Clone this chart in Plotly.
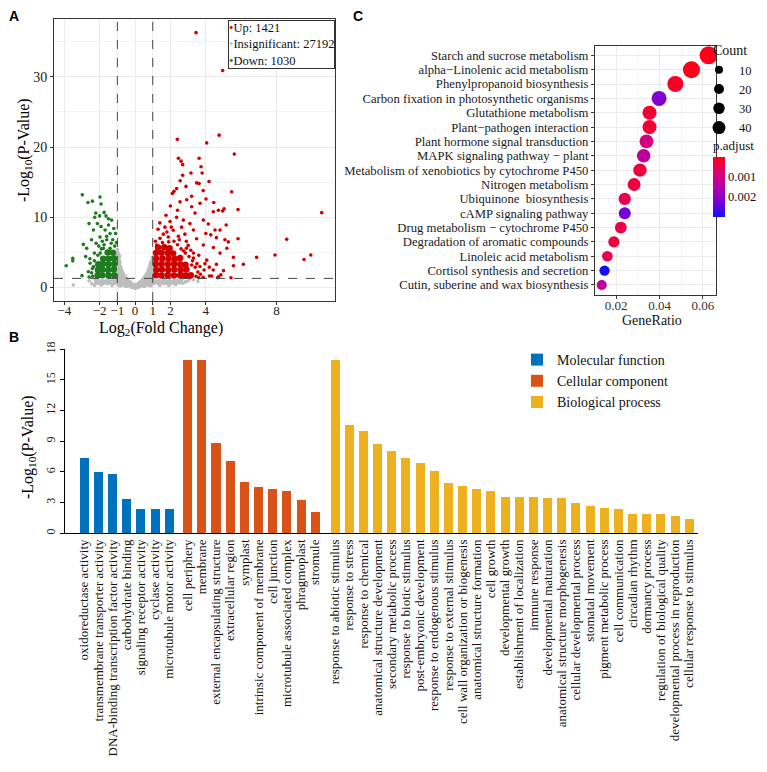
import plotly.graph_objects as go

# ------------------------------------------------------------------
# Panel A : volcano plot
# ------------------------------------------------------------------
up_x = [3.45, 4.95, 2.39, 4.75, 4.05, 5.61, 2.45, 3.62, 2.6, 2.69, 2.69, 3.16, 3.73, 3.79, 3.48, 3.62,
        4.18, 2.88, 2.35, 2.11, 2.2, 5.46, 5.82, 10.55, 8.57, 7.91, 9.93, 9.55, 6.87, 6.12, 5.56, 5.56,
        5.82, 4.71, 4.67, 4.2, 4.33, 5.42, 3.6, 2.54, 2.92, 3.2, 3.39, 3.67, 4.01, 4.42, 4.71, 4.95,
        5.03, 3.86, 4.14, 4.52, 4.8, 4.28, 4.6, 5.08, 5.27, 3.86, 4.43, 4.8, 5.19, 4.05, 3.67, 4.42,
        3.2, 3.3, 3.0, 3.48, 2.82, 2.63, 2.16, 1.98, 1.69, 2.35, 2.73, 3.1, 1.88, 1.41, 1.22, 1.6,
        3.45, 3.55, 3.4, 3.25, 3.05, 2.85, 2.6, 2.4, 2.2, 1.9, 1.55, 1.15, 3.7, 3.9, 3.5, 3.3,
        2.9, 2.5, 1.8, 1.3, 2.05, 2.9, 3.6, 3.95, 4.2, 3.85, 3.1, 2.75, 1.4, 1.75, 2.4, 2.0,
        3.2, 3.85, 2.55, 4.45, 5.15, 4.0, 3.3, 2.45, 3.15, 4.6, 5.0, 4.85]
up_y = [36.3, 30.9, 21.1, 21.7, 20.6, 19.0, 18.4, 18.4, 18.0, 17.5, 16.0, 16.3, 17.2, 16.3, 14.9, 14.8,
        15.1, 14.4, 14.1, 13.4, 13.7, 13.65, 11.1, 10.66, 6.87, 4.63, 4.63, 4.0, 4.3, 3.3, 3.1, 4.3,
        6.95, 1.54, 1.4, 1.64, 1.64, 1.4, 1.4, 12.2, 12.5, 11.5, 10.6, 12.0, 12.6, 10.8, 11.0, 10.9,
        11.2, 9.6, 9.05, 8.2, 8.2, 7.5, 7.1, 6.8, 6.5, 6.05, 5.7, 4.9, 5.6, 3.9, 3.0, 2.5,
        3.2, 4.9, 6.0, 6.95, 7.6, 8.6, 8.15, 9.4, 8.6, 10.0, 9.6, 9.1, 7.2, 7.0, 6.05, 7.6,
        1.6, 2.2, 2.9, 3.8, 4.4, 4.9, 5.5, 6.1, 6.6, 6.5, 6.4, 6.6, 1.9, 2.5, 3.4, 4.2,
        5.6, 6.8, 7.9, 8.3, 8.6, 6.6, 4.6, 3.4, 2.9, 1.45, 1.4, 5.2, 9.2, 10.3, 11.0, 11.6,
        13.0, 13.8, 15.2, 12.1, 8.9, 7.7, 8.2, 7.3, 5.3, 3.3, 2.4, 1.8]
up_core_x = [1.18, 1.5, 1.85, 2.2, 2.55, 2.85, 3.15, 1.2, 1.52, 1.88, 2.22, 2.58, 2.9,
             1.17, 1.5, 1.85, 2.2, 2.55, 2.85, 1.2, 1.55, 1.9, 2.25, 2.55,
             1.18, 1.5, 1.85, 2.15, 1.3, 1.65, 1.95]
up_core_y = [1.75, 1.7, 1.75, 1.7, 1.75, 1.7, 1.75, 2.5, 2.55, 2.5, 2.55, 2.5, 2.55,
             3.3, 3.35, 3.3, 3.35, 3.3, 3.25, 4.1, 4.15, 4.1, 4.05, 4.2,
             4.9, 4.95, 4.9, 4.85, 5.7, 5.75, 5.6]

down_x = [-2.98, -1.98, -2.41, -2.66, -1.92, -1.75, -2.22, -2.28, -1.64, -1.5, -2.6, -2.13, -2.35,
          -1.92, -1.69, -1.41, -2.46, -2.92, -2.2, -1.98, -1.6, -1.26, -2.73, -2.3, -3.52, -3.52,
          -3.89, -2.79, -2.54, -3.0, -2.64, -2.41, -1.97, -1.79, -1.41, -1.1, -1.32,
          -2.4, -2.45, -2.35, -2.3, -2.1, -1.9, -1.75, -1.15, -1.05, -1.35, -1.6, -1.2, -1.85,
          -2.05, -2.55, -2.6, -1.5, -2.0]
down_y = [13.2, 12.9, 12.3, 12.1, 11.9, 10.7, 10.6, 10.0, 10.2, 9.8, 9.1, 9.1, 8.2,
          8.7, 8.2, 7.7, 6.8, 6.15, 6.3, 7.2, 6.8, 6.8, 5.58, 4.9, 4.16, 3.8,
          3.1, 4.4, 3.45, 1.69, 2.25, 2.7, 4.9, 5.58, 5.58, 7.7, 9.6,
          1.6, 2.1, 3.0, 3.8, 4.6, 5.5, 6.1, 5.9, 6.4, 6.3, 7.3, 8.4, 6.6,
          5.9, 4.1, 1.5, 8.9, 10.2]
down_core_x = [-1.18, -1.5, -1.85, -2.12, -1.2, -1.52, -1.85, -2.1, -1.18, -1.5, -1.82, -2.08,
               -1.2, -1.5, -1.8, -1.25, -1.55]
down_core_y = [1.75, 1.7, 1.75, 1.7, 2.55, 2.5, 2.55, 2.5, 3.35, 3.3, 3.35, 3.3,
               4.15, 4.1, 4.1, 4.95, 5.0]

ins_x = [-3.49, -2.3, -2.6, -2.45, 2.7, 3.0, 2.65, -0.98, -0.92, 0.97, 1.9, 2.3, -1.9, 3.3, 1.4,
         -1.3, 0.98, -0.99, 2.85, -2.25, 0.2, -0.2, 3.55]
ins_y = [0.36, 0.3, 0.95, 0.55, 0.6, 0.95, 1.15, 5.0, 4.7, 3.9, 0.3, 0.4, 0.35, 1.1, 0.3,
         0.3, 4.3, 5.4, 0.8, 1.15, 0.05, 0.05, 0.85]
ins_core_x = [-2.15, -1.85, -1.55, -1.25, -1.0, 1.05, 1.35, 1.65, 1.95, 2.25, 2.5,
              -0.96, -0.94, -0.9, -0.82, -0.72, -0.6, -0.48, -0.33, -0.17, 0.0, 0.17, 0.33, 0.48,
              0.6, 0.72, 0.82, 0.9, 0.95,
              -0.88, -0.9, -0.78, -0.65, -0.5, -0.85, 0.88, 0.9, 0.78, 0.65, 0.5, 0.85]
ins_core_y = [0.8, 0.75, 0.8, 0.75, 0.8, 0.8, 0.75, 0.8, 0.75, 0.8, 0.9,
              4.4, 3.6, 2.9, 2.3, 1.8, 1.35, 0.95, 0.6, 0.3, 0.12, 0.3, 0.6, 0.95,
              1.35, 1.8, 2.3, 2.85, 3.4,
              2.0, 1.4, 1.0, 0.7, 0.4, 0.45, 2.0, 1.4, 1.0, 0.7, 0.4, 0.45]

volcano_names = ["Up: 1421", "Insignificant: 27192", "Down: 1030"]
fc_ticks = [-4, -2, -1, 0, 1, 2, 4, 8]
p_ticks = [0, 10, 20, 30]
fc_cut = [-1, 1]
p_cut = 1.3

# ------------------------------------------------------------------
# Panel B : GO enrichment bars
# ------------------------------------------------------------------
mf_terms = ["oxidoreductase activity", "transmembrane transporter activity",
            "DNA-binding transcription factor activity", "carbohydrate binding",
            "signaling receptor activity", "cyclase activity", "microtubule motor activity"]
mf_vals = [7.3, 6.0, 5.8, 3.3, 2.3, 2.3, 2.3]
cc_terms = ["cell periphery", "membrane", "external encapsulating structure", "extracellular region",
            "symplast", "intrinsic component of membrane", "cell junction",
            "microtubule associated complex", "phragmoplast", "stromule"]
cc_vals = [16.9, 16.9, 8.8, 7.0, 5.0, 4.5, 4.3, 4.1, 3.2, 2.1]
bp_terms = ["response to abiotic stimulus", "response to stress", "response to chemical",
            "anatomical structure development", "secondary metabolic process",
            "response to biotic stimulus", "post-embryonic development",
            "response to endogenous stimulus", "response to external stimulus",
            "cell wall organization or biogenesis", "anatomical structure formation", "cell growth",
            "developmental growth", "establishment of localization", "immune response",
            "developmental maturation", "anatomical structure morphogenesis",
            "cellular developmental process", "stomatal movement", "pigment metabolic process",
            "cell communication", "circadian rhythm", "dormancy process",
            "regulation of biological quality", "developmental process in reproduction",
            "cellular response to stimulus"]
bp_vals = [16.9, 10.6, 10.0, 8.7, 8.0, 7.35, 6.85, 6.05, 4.9, 4.55, 4.3, 4.15, 3.5, 3.5, 3.5,
           3.45, 3.45, 2.95, 2.65, 2.45, 2.3, 1.9, 1.9, 1.85, 1.7, 1.4]
go_groups = ["Molecular function", "Cellular component", "Biological process"]
go_colors = ["#0072BD", "#D95319", "#EDB120"]
go_yticks = [0, 3, 6, 9, 12, 15, 18]

# ------------------------------------------------------------------
# Panel C : KEGG dot plot
# ------------------------------------------------------------------
kegg_terms = ["Starch and sucrose metabolism", "alpha\u2212Linolenic acid metabolism",
              "Phenylpropanoid biosynthesis", "Carbon fixation in photosynthetic organisms",
              "Glutathione metabolism", "Plant\u2212pathogen interaction",
              "Plant hormone signal transduction", "MAPK signaling pathway \u2212 plant",
              "Metabolism of xenobiotics by cytochrome P450", "Nitrogen metabolism",
              "Ubiquinone  biosynthesis", "cAMP signaling pathway",
              "Drug metabolism \u2212 cytochrome P450", "Degradation of aromatic compounds",
              "Linoleic acid metabolism", "Cortisol synthesis and secretion",
              "Cutin, suberine and wax biosynthesis"]
gene_ratio = [0.0626, 0.0547, 0.0473, 0.0398, 0.0354, 0.0354, 0.0340, 0.0327, 0.0310, 0.0283,
              0.0240, 0.0240, 0.0222, 0.0190, 0.0160, 0.0147, 0.0134]
gene_count = [43, 38, 33, 28, 24, 24, 23, 22, 21, 19, 17, 16, 15, 13, 11, 10, 9]
p_adjust = [0.0001, 0.0001, 0.0002, 0.0022, 0.0003, 0.0003, 0.0010, 0.0014, 0.0004, 0.0004,
            0.0005, 0.0023, 0.0005, 0.0004, 0.0005, 0.0030, 0.0013]
count_breaks = [10, 20, 30, 40]
ratio_ticks = [0.02, 0.04, 0.06]
padj_ticks = [0.001, 0.002]

# ------------------------------------------------------------------
# page geometry: the page body adds an 8 px margin, so the figure is
# made 16 px smaller and every reference pixel is shifted by 8 px.
OFF = 8
FW, FH = 767 - 2 * OFF, 772 - 2 * OFF
SERIF = "Liberation Serif"
SANS = "Liberation Sans"


def fx(p):
    return (p - OFF) / FW


def fy(p):
    return 1 - (p - OFF) / FH


fig = go.Figure()

# ---------------- Panel A ----------------
RED, GREEN, GREY = "#D10000", "#1E7B1E", "#BDBDBD"
SMALL, CORE = 3.6, 6.5
for cx, cy, sx, sy, col in [(ins_core_x, ins_core_y, ins_x, ins_y, GREY),
                            (up_core_x, up_core_y, up_x, up_y, RED),
                            (down_core_x, down_core_y, down_x, down_y, GREEN)]:
    fig.add_trace(go.Scatter(x=cx, y=cy, mode="markers", xaxis="x", yaxis="y",
                             marker=dict(color=col, size=CORE), showlegend=False, hoverinfo="skip"))
    fig.add_trace(go.Scatter(x=sx, y=sy, mode="markers", xaxis="x", yaxis="y",
                             marker=dict(color=col, size=SMALL), showlegend=False))

shapes = []
for c in fc_cut:
    shapes.append(dict(type="line", xref="x", yref="y domain", x0=c, x1=c, y0=0, y1=1,
                       line=dict(color="#444", width=1, dash="dash")))
shapes.append(dict(type="line", xref="x domain", yref="y", x0=0, x1=1, y0=p_cut, y1=p_cut,
                   line=dict(color="#444", width=1, dash="dash")))

# ---------------- Panel B ----------------
GAP = [0.0, 0.3, 0.4]
positions_all, labels_all = [], []
start = 0.0
for gi, (terms, vals) in enumerate([(mf_terms, mf_vals), (cc_terms, cc_vals), (bp_terms, bp_vals)]):
    start += GAP[gi]
    pos = [start + j for j in range(len(terms))]
    start = pos[-1] + 1
    positions_all += pos
    labels_all += terms
    fig.add_trace(go.Bar(x=pos, y=vals, xaxis="x2", yaxis="y2", name=go_groups[gi],
                         marker=dict(color=go_colors[gi], line=dict(width=0)), width=0.64,
                         legend="legend3"))

# ---------------- Panel C ----------------
def dot_size(c):
    return (40.7 + 6.59 * c) ** 0.5


fig.add_trace(go.Scatter(x=gene_ratio, y=kegg_terms, mode="markers", xaxis="x3", yaxis="y3",
                         marker=dict(size=[dot_size(c) for c in gene_count],
                                     color=[-p for p in p_adjust], coloraxis="coloraxis",
                                     line=dict(width=0), opacity=1),
                         showlegend=False))
legend_sizes = [8, 10, 11.5, 13]
for b, s in zip(count_breaks, legend_sizes):
    fig.add_trace(go.Scatter(x=[None], y=[None], mode="markers", xaxis="x3", yaxis="y3",
                             marker=dict(size=s, color="black"), name=str(b), legend="legend2"))

# ---------------- Layout ----------------
axis_font = dict(family=SERIF, size=13, color="#222")
fig.update_layout(
    width=FW, height=FH, margin=dict(l=0, r=0, t=0, b=0, autoexpand=False),
    paper_bgcolor="white", plot_bgcolor="white",
    font=dict(family=SERIF, size=13, color="#111"),
    bargap=0,
    # A
    xaxis=dict(domain=[fx(54), fx(335)], range=[-4.58, 11.3], tickvals=fc_ticks,
               showgrid=True, gridcolor="#EBEBEB", zeroline=False, showline=True, mirror=True,
               linecolor="#333", linewidth=1, ticks="outside", ticklen=3, tickcolor="#333",
               tickfont=axis_font, anchor="y", ticklabelstandoff=-6),
    yaxis=dict(domain=[fy(301), fy(19.3)], range=[-1.92, 38.2], tickvals=p_ticks,
               showgrid=True, gridcolor="#EBEBEB", zeroline=False, showline=True, mirror=True,
               linecolor="#333", linewidth=1, ticks="outside", ticklen=3, tickcolor="#333",
               tickfont=dict(family=SERIF, size=14, color="#222"), anchor="x",
               minor=dict(tickvals=[5, 15, 25, 35], showgrid=True, gridcolor="#F3F3F3", ticks="")),
    # B
    xaxis2=dict(domain=[fx(65), fx(698)], range=[-1.36, 43.32], tickvals=positions_all,
                ticktext=labels_all, tickangle=-90, showgrid=False, zeroline=False, showline=True,
                linecolor="black", linewidth=1, ticks="", anchor="y2",
                tickfont=dict(family=SERIF, size=13, color="#111")),
    yaxis2=dict(domain=[fy(533.3), fy(349.3)], range=[0, 18], tickvals=go_yticks, tickangle=-90,
                showgrid=False, zeroline=False, showline=True, linecolor="black", linewidth=1,
                ticks="outside", ticklen=4, tickcolor="black", anchor="x2",
                tickfont=dict(family=SERIF, size=12, color="#222")),
    # C
    xaxis3=dict(domain=[fx(595), fx(716)], range=[0.0103, 0.066], tickvals=ratio_ticks,
                ticktext=["0.02", "0.04", "0.06"],
                showgrid=True, gridcolor="#EBEBEB", zeroline=False, showline=True, mirror=True,
                linecolor="#333", linewidth=1, ticks="outside", ticklen=3, tickcolor="#333",
                tickfont=dict(family=SERIF, size=13, color="#333"), anchor="y3",
                ticklabelstandoff=-5,
                minor=dict(tickvals=[0.01, 0.03, 0.05], showgrid=True, gridcolor="#F3F3F3", ticks="")),
    yaxis3=dict(domain=[fy(295), fy(46)], type="category", categoryorder="array",
                categoryarray=kegg_terms, tickmode="array", tickvals=kegg_terms,
                range=[16.7, -0.65], showgrid=True, gridcolor="#EBEBEB",
                zeroline=False, showline=True, mirror=True, linecolor="#333", linewidth=1,
                ticks="outside", ticklen=3, tickcolor="#333", anchor="x3",
                tickfont=dict(family=SERIF, size=12.7, color="#1a1a1a")),
    coloraxis=dict(colorscale=[[0, "#1010FF"], [0.25, "#7A00D8"], [0.5, "#B400AA"],
                               [0.75, "#DE0070"], [1, "#FF0010"]],
                   cmin=-0.00305, cmax=-0.00002,
                   colorbar=dict(title=dict(text="p.adjust", side="top",
                                            font=dict(family=SERIF, size=13)),
                                 x=fx(713), xanchor="left", y=fy(137), yanchor="top",
                                 lenmode="pixels", len=80, thickness=12, thicknessmode="pixels",
                                 outlinewidth=0, xpad=0, ypad=0, ticks="",
                                 tickvals=[-v for v in padj_ticks],
                                 ticktext=[str(v) for v in padj_ticks],
                                 tickfont=dict(family=SERIF, size=12.5))),
    legend2=dict(x=fx(711), y=fy(37), xanchor="left", yanchor="top", bgcolor="rgba(0,0,0,0)",
                 title=dict(text="Count", font=dict(family=SERIF, size=14)),
                 font=dict(family=SERIF, size=12.5), itemsizing="trace", indentation=-12),
    legend3=dict(x=fx(517), y=fy(344), xanchor="left", yanchor="top", bgcolor="rgba(0,0,0,0)",
                 font=dict(family=SERIF, size=14)),
    shapes=shapes,
)

# Volcano legend box (text key, as in the reference)
legend_txt = "<br>".join(
    f"<span style='color:{c}'>\u2022</span>{n}"
    for c, n in zip([RED, GREY, GREEN], volcano_names))

ann = [
    dict(text="<b>A</b>", x=fx(14), y=fy(16), font=dict(family=SANS, size=14, color="black")),
    dict(text="<b>B</b>", x=fx(14), y=fy(337), font=dict(family=SANS, size=14, color="black")),
    dict(text="<b>C</b>", x=fx(358), y=fy(16), font=dict(family=SANS, size=14, color="black")),
    dict(text="-Log<sub>10</sub>(P-Value)", x=fx(25), y=fy(150), textangle=-90,
         font=dict(family=SERIF, size=16, color="black")),
    dict(text="Log<sub>2</sub>(Fold Change)", x=fx(161), y=fy(328),
         font=dict(family=SERIF, size=16, color="black")),
    dict(text="-Log<sub>10</sub>(P-Value)", x=fx(28), y=fy(447), textangle=-90,
         font=dict(family=SERIF, size=16, color="black")),
    dict(text="GeneRatio", x=fx(652), y=fy(320), font=dict(family=SERIF, size=14, color="#111")),
]
for a in ann:
    a.update(xanchor="center", yanchor="middle")
ann.append(dict(text=legend_txt, x=fx(334.5), y=fy(19.5), xanchor="right", yanchor="top",
                align="left", bgcolor="white", bordercolor="#333", borderwidth=1, borderpad=0,
                font=dict(family=SERIF, size=12.5, color="#111")))
for a in ann:
    a.update(xref="paper", yref="paper", showarrow=False)
fig.update_layout(annotations=ann)

fig.write_html("out.html")
